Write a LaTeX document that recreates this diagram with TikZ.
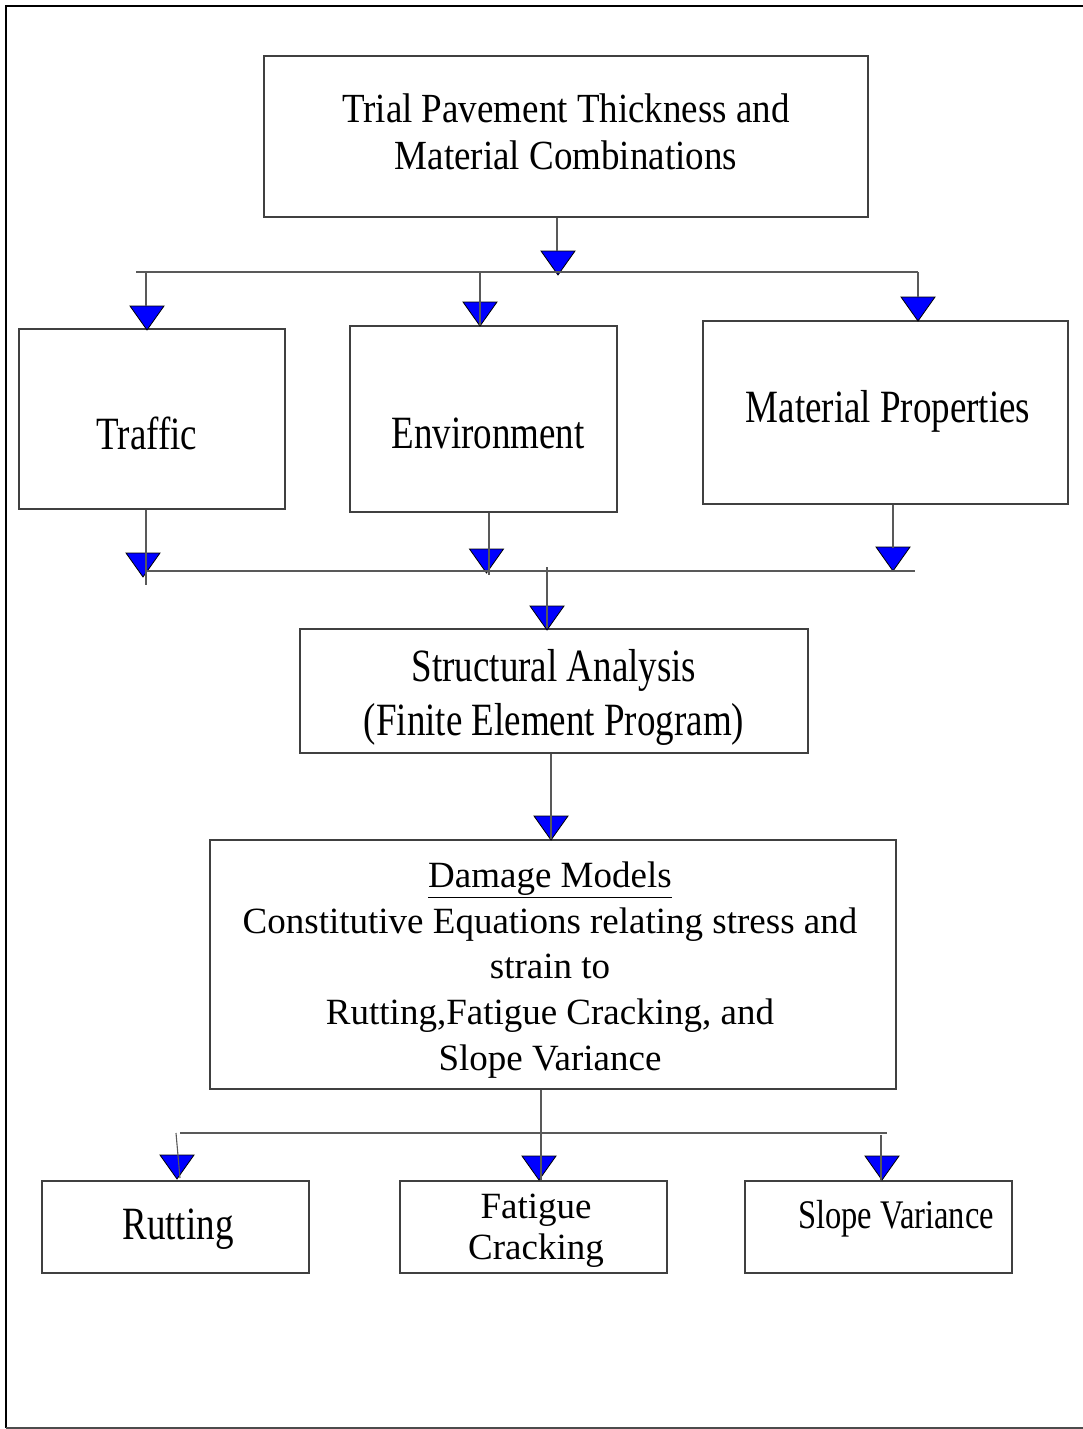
\documentclass[tikz,border=0pt]{standalone}
\usepackage{fontspec}
\setmainfont{Liberation Serif}
\usepackage{graphicx}
\usetikzlibrary{calc}
\newcommand{\tall}[1]{\scalebox{1}[1.25]{#1}}
\newcommand{\semitall}[1]{\scalebox{1}[1.12]{#1}}
\begin{document}
\begin{tikzpicture}[x=1pt,y=-1pt,
  box/.style={draw=black!75, line width=1.3pt, inner sep=0pt},
  txt/.style={inner sep=0pt, align=center, font=\fontsize{37}{46}\selectfont},
  wire/.style={draw=black!65, line width=1.1pt},
  tri/.pic={\filldraw[fill=blue,draw=black,line width=0.8pt] (-17,-24) -- (17,-24) -- (0,0) -- cycle;}]
\useasboundingbox (0,0) rectangle (1083,1429);
% frame
\draw[line width=2.8pt] (1083,6) -- (6,6) -- (6,1428);
\draw[draw=black!70, line width=1.5pt] (6,1428) -- (1083,1428);

% boxes
\node[box, minimum width=604pt, minimum height=161pt] (top) at (566,136.5) {};
\node[txt, font=\fontsize{37}{47}\selectfont] (topt) at (566,131.5) {\semitall{Trial Pavement Thickness and}\\\semitall{Material Combinations}};

\node[box, minimum width=266pt, minimum height=180pt] (traffic) at (152,419) {};
\node[txt] (traffict) at (147,433) {\tall{Traffic}};

\node[box, minimum width=267pt, minimum height=186pt] (env) at (483.5,419) {};
\node[txt] (envt) at (488,433) {\tall{Environment}};

\node[box, minimum width=365pt, minimum height=183pt] (mat) at (885.5,412.5) {};
\node[txt] (matt) at (888,411) {\tall{Material Properties}};

\node[box, minimum width=508pt, minimum height=124pt] (struct) at (554,691) {};
\node[txt, font=\fontsize{37}{54}\selectfont] (structt) at (554,697) {\tall{Structural Analysis}\\\tall{(Finite Element Program)}};

\node[box, minimum width=686pt, minimum height=249pt] (damage) at (553,964.5) {};
\node[txt, font=\fontsize{37}{45.75}\selectfont] (damaget) at (550,970) {\underline{Damage Models}\\Constitutive Equations relating stress and\\strain to\\Rutting,Fatigue Cracking, and\\Slope Variance};

\node[box, minimum width=267pt, minimum height=92pt] (rut) at (175.5,1227) {};
\node[txt] (rutt) at (178,1229) {\tall{Rutting}};

\node[box, minimum width=267pt, minimum height=92pt] (fat) at (533.5,1227) {};
\node[txt, font=\fontsize{37}{41}\selectfont] (fatt) at (536,1230.5) {Fatigue\\Cracking};

\node[box, minimum width=267pt, minimum height=92pt] (slope) at (878.5,1227) {};
\node[txt, font=\fontsize{32.5}{40}\selectfont] (slopet) at (896,1219) {\tall{Slope Variance}};

% junction coordinates
\coordinate (b1l) at (136,272);
\coordinate (b1r) at (918,272);
\coordinate (b2l) at (147,571);
\coordinate (b2r) at (915,571);
\coordinate (b3l) at (180,1133);
\coordinate (b3r) at (887,1133);

% triangles (arrow heads)
\pic at (558,275) {tri};
\pic at (147,330) {tri};
\pic at (480,326) {tri};
\pic at (918,321) {tri};
\pic at (143,577) {tri};
\pic at (486.5,573) {tri};
\pic at (893,571) {tri};
\pic at (547,630) {tri};
\pic at (551,840) {tri};
\pic at (177,1179) {tri};
\pic at (539,1180) {tri};
\pic at (882,1180) {tri};

% wires
\draw[wire] (top.south -| 557,0) -- (557,251);
\draw[wire] (b1l) -- (b1r);
\draw[wire] (146,272) -- (146,306);
\draw[wire] (480,272) -- (env.north -| 480,0);
\draw[wire] (b1r) -- (918,297);

\draw[wire] (traffic.south -| 146,0) -- (146,585);
\draw[wire] (env.south -| 489,0) -- (489,575);
\draw[wire] (mat.south -| 893,0) -- (893,548);
\draw[wire] (b2l) -- (b2r);
\draw[wire] (547,567) -- (struct.north -| 547,0);

\draw[wire] (struct.south -| 551,0) -- (damage.north -| 551,0);

\draw[wire] (damage.south -| 541,0) -- (541,1180);
\draw[wire] (b3l) -- (b3r);
\draw[wire] (176,1133) -- (180,1178);
\draw[wire] (881,1135) -- (rut.north -| 881,0);
\end{tikzpicture}
\end{document}
